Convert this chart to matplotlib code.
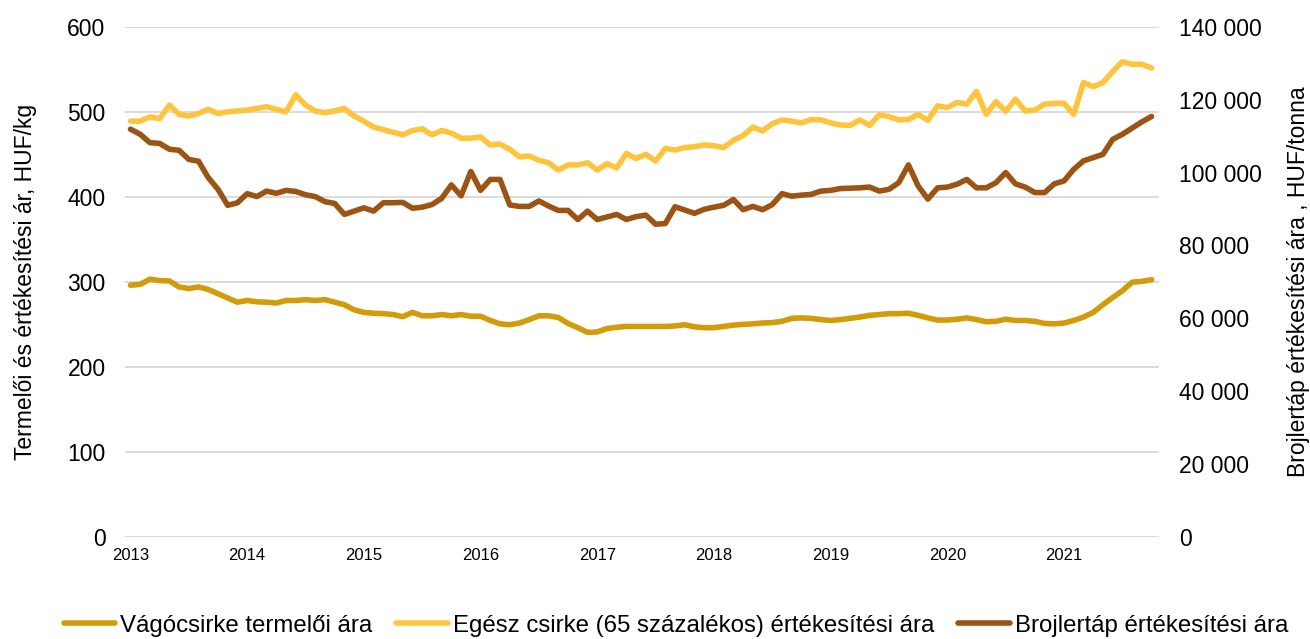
import numpy as np
import pandas as pd
from matplotlib import pyplot as plt
from matplotlib.ticker import FuncFormatter

plt.rcParams['font.family'] = ['Liberation Sans', 'DejaVu Sans']

# monthly data, 2013-01 .. 2021-10
months = pd.date_range('2013-01-01', periods=106, freq='MS')

# Vágócsirke termelői ára (HUF/kg, left axis)
vagocsirke = [296, 297, 303, 301.5, 301, 294, 292, 294, 291, 286, 281, 276,
              278, 276.5, 276, 275, 278, 278, 279, 278, 279, 276,
              273, 267, 264, 263, 262.5, 261.5, 259, 264, 260, 260, 261.5, 260,
              261.5, 259.5, 259.5, 254.5, 250.5, 249.5, 251.5, 255.5,
              260, 260, 258, 251, 246, 240.5, 241, 245, 246.5, 247.5, 247.5,
              247.5, 247.5, 247.5, 248, 249.5, 247, 246, 246, 247.5, 249, 250,
              250.5, 251.5, 252, 253.5, 257, 257.5, 257, 255.5, 254.5, 255.5,
              257, 258.5, 260.5, 261.5, 262.5, 262.5, 263, 260.5, 257.5, 255, 255,
              256, 257.5, 255.5, 253, 253.5, 256, 254.5, 254.5, 253.5, 251,
              250.5, 251.5, 254.5, 258.5, 264, 273, 281.5, 289.5, 299.5, 300.5, 302.5]

# Egész csirke (65 százalékos) értékesítési ára (HUF/kg, left axis)
egesz_csirke = [489, 489, 494, 492, 508, 497, 495, 498, 503, 498, 500, 501,
                502, 504, 506, 503, 500, 520, 508, 501, 499, 501,
                504, 495, 489, 482, 479, 476, 473, 478, 480, 473, 478, 475,
                469, 469, 470.5, 461, 462, 456, 447, 448,
                443, 440, 431.5, 437.5, 437.5, 440, 431.5, 439, 434, 451, 445,
                450, 442, 457, 455, 458, 459, 461, 460, 458, 466.5, 472,
                482, 477.5, 486, 490.5, 489, 487, 491, 490.5, 487, 484.5, 484,
                490.5, 484, 496.5, 494.5, 490.5, 491, 497, 490, 507, 505,
                511, 509, 524, 497, 512, 500.5, 515, 501, 502, 509, 510,
                510, 497, 534.5, 529.5, 534.5, 547.5, 559, 556, 556, 551.5]

# Brojlertáp értékesítési ára (HUF/tonna, right axis)
brojlertap = [111900, 110500, 108200, 108000, 106400, 106100, 103600, 103100,
              98600, 95400, 91000, 91700, 94200, 93400, 94900, 94300, 95100,
              94800, 93900, 93400, 92000, 91500,
              88500, 89400, 90300, 89400, 91700, 91700, 91800, 90200, 90500,
              91200, 92900, 96600, 93600, 100300, 95100, 98100, 98100, 91100,
              90700, 90700,
              92200, 90800, 89600, 89600, 87100, 89400, 87100, 87800, 88500,
              87100, 87900, 88300, 85800, 86000, 90600, 89700, 88800, 89900,
              90500, 91000, 92600, 89800,
              90700, 89800, 91200, 94200, 93500, 93800, 94000, 94900, 95100,
              95600, 95700, 95800, 96000, 94900, 95400, 97200, 102100, 96300,
              92700, 95800, 96000,
              96800, 98100, 95800, 95800, 97200, 100000, 96900, 96000, 94500,
              94500, 96900, 97700, 100900, 103200, 104100, 105000, 109100,
              110500, 112200, 113900, 115400]

years = list(range(2013, 2022))

c_vago = '#D29B0A'
c_egesz = '#FFC43D'
c_broj = '#9C5415'

t = months.year + (months.month - 1) / 12.0

fig = plt.figure(figsize=(13.1, 6.39), dpi=100)
ax = fig.add_axes([0.0954, 0.160, 0.7896, 0.798])
ax2 = ax.twinx()

lw = 4.0
l1, = ax.plot(t, vagocsirke, color=c_vago, lw=lw, solid_capstyle='round', solid_joinstyle='round')
l2, = ax.plot(t, egesz_csirke, color=c_egesz, lw=lw, solid_capstyle='round', solid_joinstyle='round')
l3, = ax2.plot(t, brojlertap, color=c_broj, lw=lw, solid_capstyle='round', solid_joinstyle='round')

ax.set_ylim(0, 600)
ax.set_yticks(range(0, 601, 100))
ax2.set_ylim(0, 140000)
ax2.set_yticks(range(0, 140001, 20000))
ax2.yaxis.set_major_formatter(FuncFormatter(lambda v, p: f'{int(v):,}'.replace(',', ' ')))

ax.set_xlim(2013 - 0.047, 2013 + 105.8 / 12)
ax.set_xticks(years)
ax.set_xticklabels([str(y) for y in years])

ax.grid(axis='y', color='#D9D9D9', lw=1.3)
ax.set_axisbelow(True)
for a in (ax, ax2):
    for s in a.spines.values():
        s.set_visible(False)
    a.tick_params(length=0)
ax.tick_params(axis='y', labelsize=16.5, pad=14)
ax.tick_params(axis='x', labelsize=12, pad=8)
ax2.tick_params(axis='y', labelsize=16.5, pad=14)

ax.set_ylabel('Termelői és értékesítési ár, HUF/kg', fontsize=16.5, labelpad=22)
ax2.set_ylabel('Brojlertáp értékesítési ára , HUF/tonna', fontsize=16.5, labelpad=18)

fig.legend([l1, l2, l3],
           ['Vágócsirke termelői ára',
            'Egész csirke (65 százalékos) értékesítési ára',
            'Brojlertáp értékesítési ára'],
           loc='lower center', bbox_to_anchor=(0.516, -0.03), ncol=3,
           frameon=False, fontsize=17.3, handlelength=2.15,
           handletextpad=0.2, columnspacing=1.0)

fig.savefig('out.png', dpi=100)
